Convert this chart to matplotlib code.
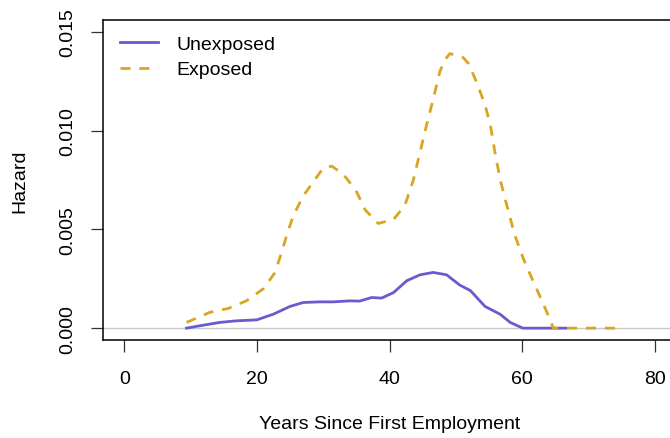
import matplotlib
matplotlib.use("Agg")
import matplotlib.pyplot as plt

plt.rcParams['font.family'] = ['Liberation Sans', 'DejaVu Sans']

# smoothed hazard estimates (years since first employment, hazard)
unexp_years = [9.4, 11.4, 14.4, 16.9, 20.0, 22.5, 25.0, 27.0, 29.5, 31.5, 34.0,
               35.5, 37.3, 38.8, 40.6, 42.6, 44.6, 46.6, 48.6, 50.6, 52.2,
               54.4, 56.7, 58.2, 60.1, 66.6]
unexp_hazard = [0.0, 0.00012, 0.00029, 0.00037, 0.00042, 0.00071, 0.0011,
                0.0013, 0.00133, 0.00133, 0.00138, 0.00137, 0.00155, 0.00152,
                0.0018, 0.0024, 0.0027, 0.00282, 0.0027, 0.00218, 0.0019,
                0.0011, 0.0007, 0.00029, 0.0, 0.0]

exp_years = [9.4, 12.9, 15.7, 18.4, 21.0, 22.7, 23.7, 24.5, 25.5, 27.0, 28.5,
             30.0, 31.3, 33.0, 34.9, 36.3, 38.3, 40.6, 42.3, 43.6, 44.6, 45.6,
             46.6, 47.6, 48.4, 49.1, 50.1, 51.1, 51.9, 53.2, 54.4, 55.2, 55.9,
             56.7, 57.7, 58.9, 60.2, 61.5, 62.7, 64.0, 64.7, 75.0]
exp_hazard = [0.00029, 0.0008, 0.001, 0.00138, 0.002, 0.0028, 0.0038, 0.0047,
              0.0057, 0.0067, 0.0074, 0.0081, 0.0082, 0.0078, 0.007, 0.006,
              0.0053, 0.0055, 0.0062, 0.0075, 0.0089, 0.0103, 0.0116, 0.013,
              0.0136, 0.0139, 0.0138, 0.0137, 0.0134, 0.0124, 0.0113, 0.0103,
              0.0089, 0.0075, 0.0062, 0.0047, 0.0035, 0.0025, 0.0016, 0.0006,
              0.0, 0.0]

x_ticks = [0, 20, 40, 60, 80]
y_ticks = [0.0, 0.005, 0.010, 0.015]
y_tick_labels = ['0.000', '0.005', '0.010', '0.015']

W, H = 670, 439
fig = plt.figure(figsize=(W / 100, H / 100), dpi=100)
# plot region runs past the right edge of the figure
ax = fig.add_axes([103 / W, 98 / H, (676 - 103) / W, (341 - 21) / H])

ax.axhline(0, color='#c8c8c8', lw=1.0, zorder=1)
ax.plot(unexp_years, unexp_hazard, color='#6a5acd', lw=2.0,
        label='Unexposed', zorder=2, solid_joinstyle='round')
ax.plot(exp_years, exp_hazard, color='#daa520', lw=2.0,
        linestyle=(0, (3.6, 3.2)), label='Exposed', zorder=2)

ax.set_xlim(-3.2, 83.2)
ax.set_ylim(-0.0006, 0.0156)
ax.set_xticks(x_ticks)
ax.set_xticklabels([str(v) for v in x_ticks])
ax.set_yticks(y_ticks)
ax.set_yticklabels(y_tick_labels)
ax.tick_params(axis='both', direction='out', length=8.5, width=0.9,
               color='#333333', labelsize=14)
ax.tick_params(axis='x', pad=13)
ax.tick_params(axis='y', pad=11, labelrotation=90)
for lab in ax.get_yticklabels():
    lab.set_verticalalignment('center')
for s in ax.spines.values():
    s.set_linewidth(1.1)

fig.text(389.5 / W, 1 - 425 / H, 'Years Since First Employment',
         ha='center', va='center', fontsize=14)
fig.text(20 / W, 1 - 181 / H, 'Hazard', ha='center', va='center',
         rotation=90, fontsize=14)

ax.legend(loc='upper left', bbox_to_anchor=(120 / W, 1 - 36 / H),
          bbox_transform=fig.transFigure, frameon=False, fontsize=14,
          borderpad=0, borderaxespad=0, handlelength=1.95,
          handletextpad=0.93, labelspacing=0.42)

fig.savefig('out.png', dpi=100)
